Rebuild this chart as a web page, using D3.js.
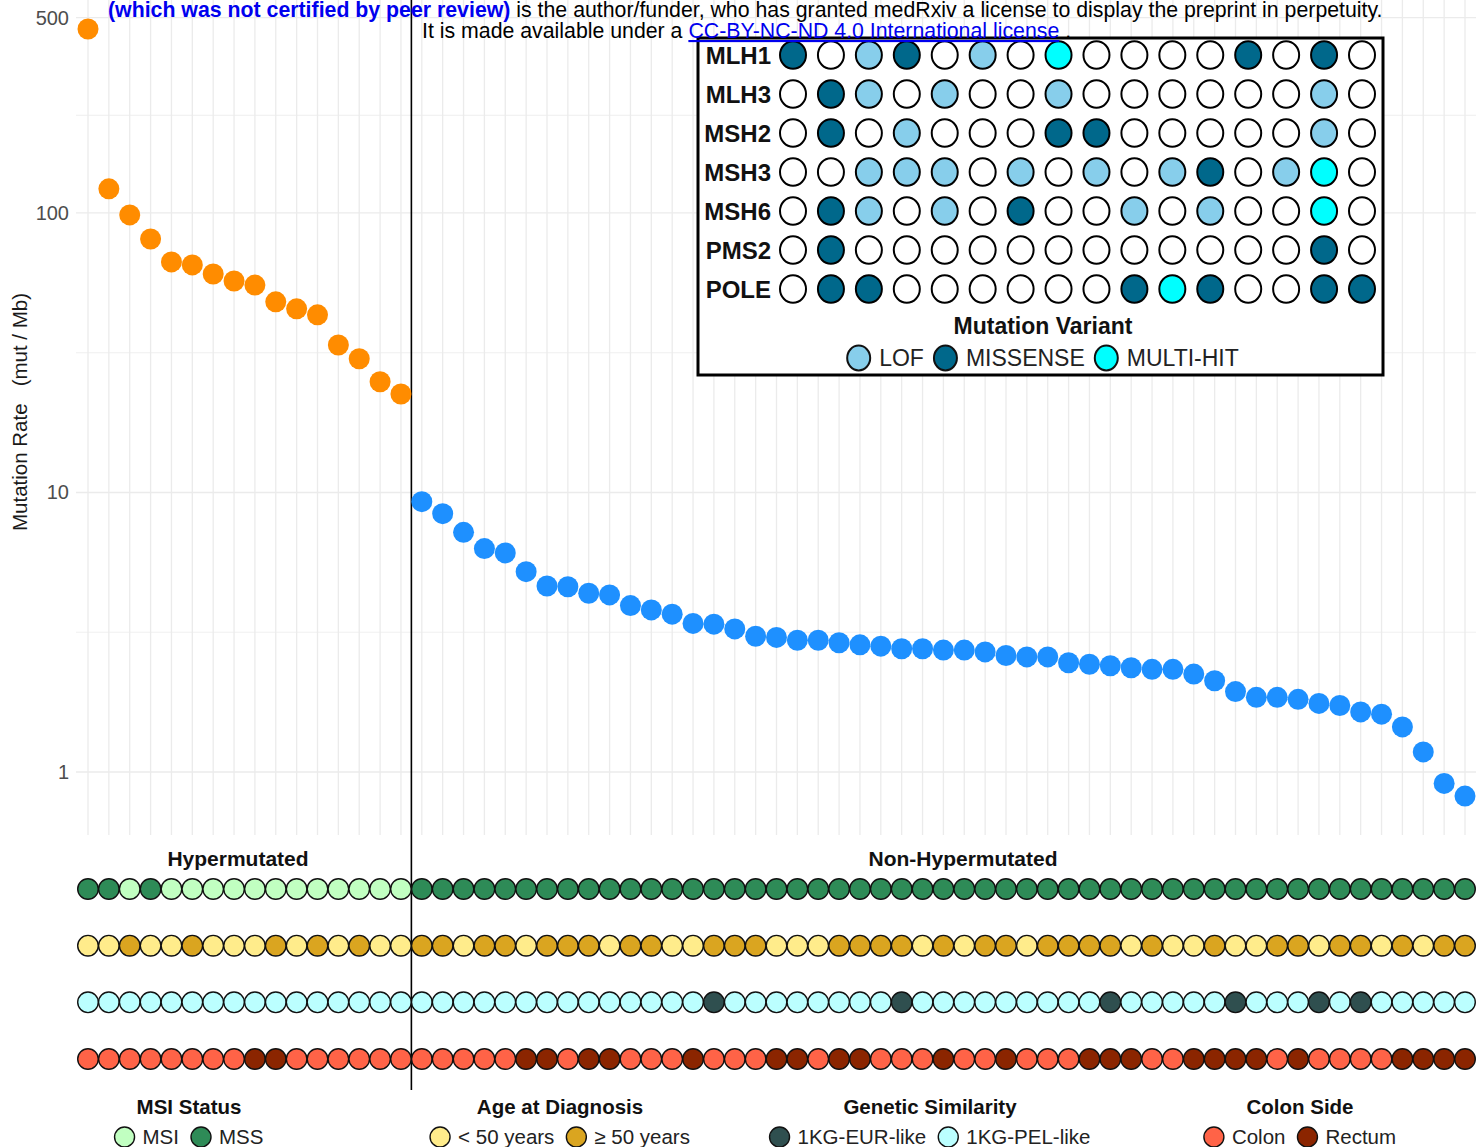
<!DOCTYPE html>
<html><head><meta charset="utf-8">
<script src="https://cdn.jsdelivr.net/npm/d3@7"></script>
<style>
body{margin:0;background:#fff}
svg{display:block;font-family:"Liberation Sans",Arial,Helvetica,sans-serif}
</style>
</head><body>
<svg id="chart" width="1476" height="1147"></svg>
<script>
// ---------------- DATA ----------------
const groupNames = ["Hypermutated", "Non-Hypermutated"];
const groupSizes = [16, 51];

// tumour mutation burden (mut / Mb), samples ordered left to right
const mutationRate = [
  455, 122, 98.4, 80.7, 66.8, 65.2, 60.5, 57.1, 55.2, 48.1, 45.4, 43.2, 33.7, 30.1, 24.9, 22.5,
  9.27, 8.40, 7.20, 6.30, 6.08, 5.21, 4.63, 4.60, 4.36, 4.30, 3.94, 3.80, 3.67, 3.40, 3.38, 3.25,
  3.06, 3.03, 2.96, 2.96, 2.90, 2.85, 2.82, 2.76, 2.76, 2.73, 2.73, 2.69, 2.61, 2.58, 2.58, 2.46,
  2.43, 2.40, 2.36, 2.33, 2.33, 2.24, 2.12, 1.94, 1.85, 1.85, 1.82, 1.76, 1.73, 1.64, 1.61, 1.45,
  1.18, 0.91, 0.82
];

const yTicks = [1, 10, 100, 500];

// annotation tracks
const msiStatus = [
  "MSS","MSS","MSI","MSS","MSI","MSI","MSI","MSI","MSI","MSI","MSI","MSI","MSI","MSI","MSI","MSI",
  "MSS","MSS","MSS","MSS","MSS","MSS","MSS","MSS","MSS","MSS","MSS","MSS","MSS","MSS","MSS","MSS",
  "MSS","MSS","MSS","MSS","MSS","MSS","MSS","MSS","MSS","MSS","MSS","MSS","MSS","MSS","MSS","MSS",
  "MSS","MSS","MSS","MSS","MSS","MSS","MSS","MSS","MSS","MSS","MSS","MSS","MSS","MSS","MSS","MSS",
  "MSS","MSS","MSS"
];
const ageGroup = [ // Y = < 50 years, O = >= 50 years
  "Y","Y","O","Y","Y","O","Y","Y","Y","O","Y","O","Y","O","Y","Y",
  "O","O","Y","O","O","Y","O","O","O","Y","O","O","Y","Y",
  "O","O","O","Y","Y","Y","O","O","O","O","Y","O","Y","O","O","Y",
  "O","O","O","O","Y","O","Y","Y","O","Y","Y","O","O","Y","O","O","Y","O","Y","O","O"
];
const geneticSimilarity = [ // P = 1KG-PEL-like, E = 1KG-EUR-like
  "P","P","P","P","P","P","P","P","P","P","P","P","P","P","P","P",
  "P","P","P","P","P","P","P","P","P","P","P","P","P","P",
  "E","P","P","P","P","P","P","P","P","E","P","P","P","P","P","P",
  "P","P","P","E","P","P","P","P","P","E","P","P","P","E","P","E","P","P","P","P","P"
];
const colonSide = [ // C = Colon, R = Rectum
  "C","C","C","C","C","C","C","C","R","R","C","C","C","C","C","C",
  "C","C","C","C","C","R","R","C","R","R","C","C","C","R",
  "C","C","C","R","R","C","R","R","C","C","C","R","C","C","R","C",
  "C","C","R","R","R","C","C","R","R","R","R","C","R","C","C","C","C","R","R","R","R"
];

// MMR / POLE variants in the 16 hypermutated samples (L = LOF, M = MISSENSE, H = MULTI-HIT, "" = none)
const genes = ["MLH1","MLH3","MSH2","MSH3","MSH6","PMS2","POLE"];
const variantMLH1 = ["M","","L","M","","L","","H","","","","","M","","M",""];
const variantMLH3 = ["","M","L","","L","","","L","","","","","","","L",""];
const variantMSH2 = ["","M","","L","","","","M","M","","","","","","L",""];
const variantMSH3 = ["","","L","L","L","","L","","L","","L","M","","L","H",""];
const variantMSH6 = ["","M","L","","L","","M","","","L","","L","","","H",""];
const variantPMS2 = ["","M","","","","","","","","","","","","","M",""];
const variantPOLE = ["","M","M","","","","","","","M","H","M","","","M","M"];

// ---------------- BUILD ----------------
const sampleIds = mutationRate.map((_, i) => "S" + (i + 1));
const hyperIds = sampleIds.slice(0, groupSizes[0]);
const variants = {MLH1: variantMLH1, MLH3: variantMLH3, MSH2: variantMSH2, MSH3: variantMSH3,
                  MSH6: variantMSH6, PMS2: variantPMS2, POLE: variantPOLE};

const svg = d3.select("#chart");
const panelLeft = 76, panelRight = 1476, panelTop = 0, panelBottom = 835;

const x = d3.scalePoint().domain(sampleIds).range([88, 1465]);
const y = d3.scaleLog().domain([1, 500]).range([772, 17.6]);

const grid = svg.append("g");
// horizontal major & minor gridlines
const lt = yTicks.map(Math.log10);
const minor = [];
for (let i = 0; i < lt.length - 1; i++) minor.push(Math.pow(10, (lt[i] + lt[i + 1]) / 2));
grid.selectAll(".hmin").data(minor).join("line")
  .attr("x1", panelLeft).attr("x2", panelRight)
  .attr("y1", d => y(d)).attr("y2", d => y(d))
  .attr("stroke", "#ebebeb").attr("stroke-width", 0.8);
grid.selectAll(".hmaj").data(yTicks).join("line")
  .attr("x1", panelLeft).attr("x2", panelRight)
  .attr("y1", d => y(d)).attr("y2", d => y(d))
  .attr("stroke", "#ebebeb").attr("stroke-width", 1.3);
grid.selectAll(".v").data(sampleIds).join("line")
  .attr("x1", d => x(d)).attr("x2", d => x(d))
  .attr("y1", panelTop).attr("y2", panelBottom)
  .attr("stroke", "#ebebeb").attr("stroke-width", 1.3);

// y axis
const yAxis = svg.append("g").attr("transform", `translate(${panelLeft},0)`)
  .call(d3.axisLeft(y).tickValues(yTicks).tickFormat(d3.format("d")).tickSize(0).tickPadding(7));
yAxis.select(".domain").remove();
yAxis.selectAll("text").attr("font-size", 20).attr("fill", "#4d4d4d")
  .attr("font-family", "'Liberation Sans', Arial, sans-serif");

svg.append("text")
  .attr("transform", "translate(27,412) rotate(-90)")
  .attr("text-anchor", "middle")
  .attr("font-size", 20.5).attr("fill", "#1a1a1a")
  .style("white-space", "pre")
  .text("Mutation Rate   (mut / Mb)");

// separator line
const sepX = (x(sampleIds[groupSizes[0] - 1]) + x(sampleIds[groupSizes[0]])) / 2;
svg.append("line").attr("x1", sepX).attr("x2", sepX).attr("y1", 0).attr("y2", 1090)
  .attr("stroke", "#000").attr("stroke-width", 1.6);

// mutation rate points
svg.append("g").selectAll("circle").data(mutationRate).join("circle")
  .attr("cx", (d, i) => x(sampleIds[i]))
  .attr("cy", d => y(d))
  .attr("r", 10.5)
  .attr("fill", (d, i) => i < groupSizes[0] ? "#ff8c00" : "#1e90ff");

// group labels
const groupLabelX = [238, 963];
groupNames.forEach((g, i) => {
  svg.append("text").attr("x", groupLabelX[i]).attr("y", 866)
    .attr("text-anchor", "middle").attr("font-size", 21).attr("font-weight", "bold")
    .attr("fill", "#111").text(g);
});

// annotation tracks
const tracks = [
  {name: "MSI Status", values: msiStatus, colors: {MSI: "#c1ffc1", MSS: "#2e8b57"},
   legend: [["MSI", "MSI"], ["MSS", "MSS"]]},
  {name: "Age at Diagnosis", values: ageGroup, colors: {Y: "#ffec8b", O: "#daa520"},
   legend: [["Y", "< 50 years"], ["O", "\u2265 50 years"]]},
  {name: "Genetic Similarity", values: geneticSimilarity, colors: {E: "#2f4f4f", P: "#bbffff"},
   legend: [["E", "1KG-EUR-like"], ["P", "1KG-PEL-like"]]},
  {name: "Colon Side", values: colonSide, colors: {C: "#ff6347", R: "#8b2500"},
   legend: [["C", "Colon"], ["R", "Rectum"]]}
];
const yTrack = d3.scalePoint().domain(tracks.map(t => t.name)).range([889, 1059]);
tracks.forEach(t => {
  svg.append("g").selectAll("circle").data(t.values).join("circle")
    .attr("cx", (d, i) => x(sampleIds[i]))
    .attr("cy", yTrack(t.name))
    .attr("r", 10.3)
    .attr("fill", d => t.colors[d])
    .attr("stroke", "#111").attr("stroke-width", 1.4);
});

// legend helper
function drawLegend(cx, titleY, itemY, title, items, r, fontSize, titleSize, strokeW, txtGap, itemGap, ellipse) {
  const g = svg.append("g");
  g.append("text").attr("x", cx).attr("y", titleY).attr("text-anchor", "middle")
    .attr("font-size", titleSize).attr("font-weight", "bold").attr("fill", "#111").text(title);
  const parts = [];
  let cur = 0;
  items.forEach((it, i) => {
    const t = g.append("text").attr("y", itemY).attr("dy", "0.36em")
      .attr("font-size", fontSize).attr("fill", "#222").text(it.label);
    const w = t.node().getComputedTextLength();
    parts.push({t, circleX: cur + r, textX: cur + 2 * r + txtGap, fill: it.fill});
    cur += 2 * r + txtGap + w + (i < items.length - 1 ? itemGap : 0);
  });
  const start = cx - cur / 2;
  parts.forEach(p => {
    const c = g.append("ellipse").attr("cx", start + p.circleX).attr("cy", itemY)
      .attr("rx", r).attr("ry", ellipse ? r * 1.08 : r)
      .attr("fill", p.fill).attr("stroke", "#111").attr("stroke-width", strokeW);
    p.t.attr("x", start + p.textX);
  });
}

const legendCenters = [189, 560, 930, 1300];
tracks.forEach((t, i) => {
  drawLegend(legendCenters[i], 1114, 1137, t.name,
    t.legend.map(([k, lab]) => ({label: lab, fill: t.colors[k]})),
    10, 20.5, 20.5, 1.4, 8, 12, false);
});

// ---------------- inset variant table ----------------
const inset = svg.append("g");
inset.append("rect").attr("x", 698).attr("y", 38).attr("width", 685).attr("height", 337)
  .attr("fill", "#fff").attr("stroke", "#000").attr("stroke-width", 3);

const variantColors = {L: "#87ceeb", M: "#00688b", H: "#00ffff", "": "#ffffff"};
const xIn = d3.scalePoint().domain(hyperIds).range([793, 1362]);
const yIn = d3.scalePoint().domain(genes).range([55, 289]);

genes.forEach(gn => {
  inset.append("text").attr("x", 771).attr("y", yIn(gn)).attr("dy", "0.36em")
    .attr("text-anchor", "end").attr("font-size", 24).attr("font-weight", "bold")
    .attr("fill", "#111").text(gn);
  inset.append("g").selectAll("ellipse").data(variants[gn]).join("ellipse")
    .attr("cx", (d, i) => xIn(hyperIds[i]))
    .attr("cy", yIn(gn))
    .attr("rx", 13).attr("ry", 13.8)
    .attr("fill", d => variantColors[d])
    .attr("stroke", "#000").attr("stroke-width", 2);
});

drawLegend(1043, 334, 358, "Mutation Variant",
  [{label: "LOF", fill: variantColors.L}, {label: "MISSENSE", fill: variantColors.M},
   {label: "MULTI-HIT", fill: variantColors.H}],
  11.5, 23, 23, 2, 9, 10, true);

// ---------------- preprint header text ----------------
const h1 = svg.append("text").attr("x", 108).attr("y", 17).attr("font-size", 21.3);
h1.append("tspan").attr("font-weight", "bold").attr("fill", "#0000ee")
  .text("(which was not certified by peer review)");
h1.append("tspan").attr("fill", "#000").style("white-space", "pre")
  .text(" is the author/funder, who has granted medRxiv a license to display the preprint in perpetuity.");
const h2 = svg.append("text").attr("x", 422).attr("y", 38).attr("font-size", 21.3).style("white-space", "pre");
h2.append("tspan").attr("fill", "#000").text("It is made available under a ");
h2.append("tspan").attr("fill", "#0000ee").attr("text-decoration", "underline")
  .text("CC-BY-NC-ND 4.0 International license");
h2.append("tspan").attr("fill", "#000").text(" .");
</script>
</body></html>
